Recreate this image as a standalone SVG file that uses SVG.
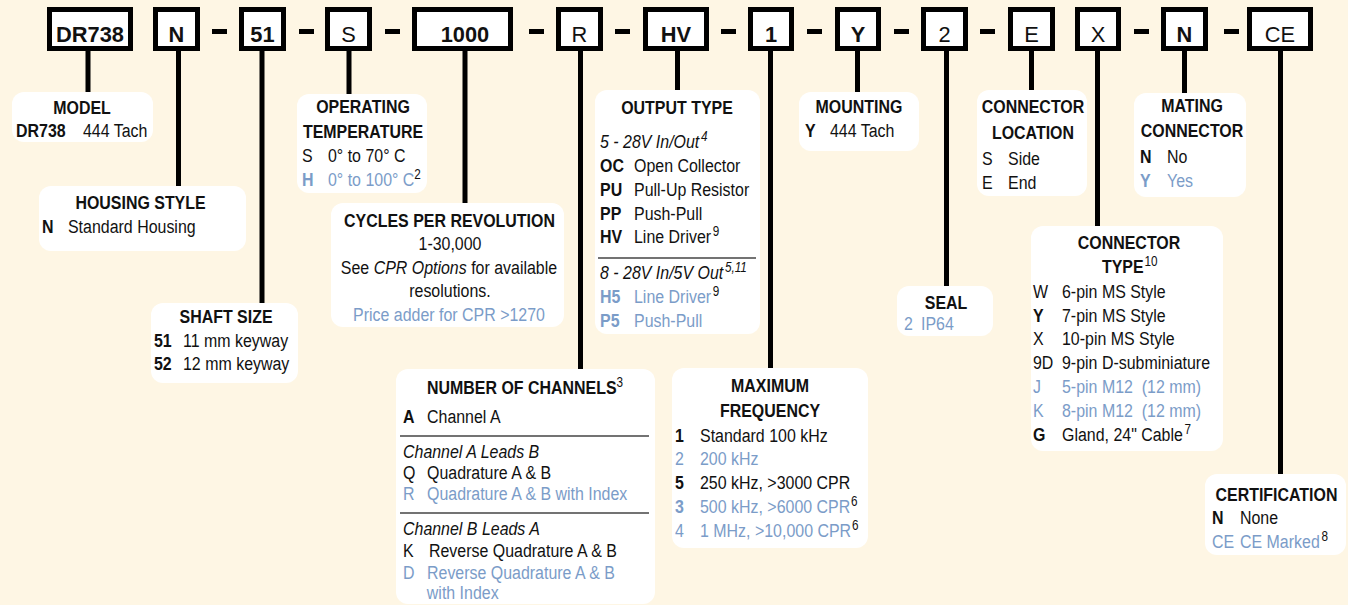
<svg xmlns="http://www.w3.org/2000/svg" width="1348" height="605" viewBox="0 0 1348 605">
<style>
text{font-family:"Liberation Sans",Arial,sans-serif;font-size:19px;fill:#111;transform-box:fill-box;transform-origin:0 50%;transform:scaleX(0.84)}
.code{font-size:22.5px;font-weight:bold;text-anchor:middle;transform-origin:50% 50%;transform:scaleX(0.97)}
.code.r{font-weight:normal}
.b{font-weight:bold}
.h{font-weight:bold;text-anchor:middle;transform-origin:50% 50%}
.c{text-anchor:middle;transform-origin:50% 50%}
.i{font-style:italic}
.bl{fill:#7b9cc8}
.sup{font-size:14px;fill:#111}
.cb{fill:#fff;stroke:#000;stroke-width:5}
.ib{fill:#fff}
.dash{fill:#000}
.div{stroke:#444;stroke-width:1.5}
#connectors line{stroke:#000;stroke-width:5}
</style>
<rect width="1348" height="605" fill="#fef6e4"/>
<g id="connectors">
<line x1="88" y1="50" x2="88" y2="93"/>
<line x1="178.5" y1="50" x2="178.5" y2="187"/>
<line x1="262" y1="50" x2="262" y2="304"/>
<line x1="349" y1="50" x2="349" y2="95"/>
<line x1="465" y1="50" x2="465" y2="204"/>
<line x1="580.5" y1="50" x2="580.5" y2="370"/>
<line x1="677.5" y1="50" x2="677.5" y2="91"/>
<line x1="770.5" y1="50" x2="770.5" y2="369"/>
<line x1="857.5" y1="50" x2="857.5" y2="93"/>
<line x1="946.5" y1="50" x2="946.5" y2="287"/>
<line x1="1031.5" y1="50" x2="1031.5" y2="91"/>
<line x1="1097.5" y1="50" x2="1097.5" y2="227"/>
<line x1="1184.5" y1="50" x2="1184.5" y2="94"/>
<line x1="1280.5" y1="50" x2="1280.5" y2="475"/>
</g>
<g id="dashes">
<rect class="dash" x="212" y="29" width="15" height="5"/>
<rect class="dash" x="299" y="29" width="15" height="5"/>
<rect class="dash" x="385" y="29" width="15" height="5"/>
<rect class="dash" x="529" y="29" width="15" height="5"/>
<rect class="dash" x="615" y="29" width="15" height="5"/>
<rect class="dash" x="721" y="29" width="15" height="5"/>
<rect class="dash" x="807" y="29" width="15" height="5"/>
<rect class="dash" x="894" y="29" width="15" height="5"/>
<rect class="dash" x="980" y="29" width="15" height="5"/>
<rect class="dash" x="1134" y="29" width="15" height="5"/>
<rect class="dash" x="1224" y="29" width="15" height="5"/>
</g>
<g id="code-dr738"><rect class="cb" x="49.5" y="9.5" width="81" height="39"/><text class="code" x="90" y="42">DR738</text></g>
<g id="code-n"><rect class="cb" x="155.5" y="9.5" width="42" height="39"/><text class="code" x="176.5" y="42">N</text></g>
<g id="code-51"><rect class="cb" x="241.5" y="9.5" width="42" height="39"/><text class="code" x="262.5" y="42">51</text></g>
<g id="code-s"><rect class="cb" x="327.5" y="9.5" width="42" height="39"/><text class="code r" x="348.5" y="42">S</text></g>
<g id="code-1000"><rect class="cb" x="414.5" y="9.5" width="96" height="39"/><text class="code" x="465" y="42">1000</text></g>
<g id="code-r"><rect class="cb" x="558.5" y="9.5" width="42" height="39"/><text class="code r" x="579.5" y="42">R</text></g>
<g id="code-hv"><rect class="cb" x="645.5" y="9.5" width="61" height="39"/><text class="code" x="676" y="42">HV</text></g>
<g id="code-1"><rect class="cb" x="750.5" y="9.5" width="41" height="39"/><text class="code" x="771" y="42">1</text></g>
<g id="code-y"><rect class="cb" x="837.5" y="9.5" width="41" height="39"/><text class="code" x="858" y="42">Y</text></g>
<g id="code-2"><rect class="cb" x="923.5" y="9.5" width="42" height="39"/><text class="code r" x="944.5" y="42">2</text></g>
<g id="code-e"><rect class="cb" x="1010.5" y="9.5" width="42" height="39"/><text class="code r" x="1031.5" y="42">E</text></g>
<g id="code-x"><rect class="cb" x="1077.5" y="9.5" width="41" height="39"/><text class="code r" x="1098" y="42">X</text></g>
<g id="code-n2"><rect class="cb" x="1163.5" y="9.5" width="42" height="39"/><text class="code" x="1184.5" y="42">N</text></g>
<g id="code-ce"><rect class="cb" x="1249.5" y="9.5" width="61" height="39"/><text class="code r" x="1280" y="42">CE</text></g>

<g id="info-model"><rect class="ib" x="12" y="92" width="141" height="50" rx="12"/>
<text class="h" x="82" y="114">MODEL</text>
<text class="b" x="16" y="137">DR738</text><text x="83" y="137">444 Tach</text></g>

<g id="info-housing"><rect class="ib" x="39" y="186" width="207" height="65" rx="12"/>
<text class="h" x="140.5" y="209">HOUSING STYLE</text>
<text class="b" x="42" y="233">N</text><text x="68" y="233">Standard Housing</text></g>

<g id="info-shaft"><rect class="ib" x="151" y="303" width="147" height="80" rx="12"/>
<text class="h" x="226" y="323">SHAFT SIZE</text>
<text class="b" x="154" y="347">51</text><text x="183" y="347">11 mm keyway</text>
<text class="b" x="154" y="370">52</text><text x="183" y="370">12 mm keyway</text></g>

<g id="info-temp"><rect class="ib" x="297" y="94" width="130" height="99" rx="12"/>
<text class="h" x="363" y="113">OPERATING</text>
<text class="h" x="363" y="138">TEMPERATURE</text>
<text x="302" y="162">S</text><text x="328" y="162">0° to 70° C</text>
<text class="b bl" x="302" y="186">H</text><text class="bl" x="328" y="186">0° to 100° C<tspan class="sup" dy="-7">2</tspan></text></g>

<g id="info-cpr"><rect class="ib" x="331" y="203" width="233" height="124" rx="12"/>
<text class="h" x="449.5" y="227">CYCLES PER REVOLUTION</text>
<text class="c" x="450" y="250">1-30,000</text>
<text class="c" x="449" y="274">See <tspan class="i">CPR Options</tspan> for available</text>
<text class="c" x="450" y="297">resolutions.</text>
<text class="c bl" x="449" y="321">Price adder for CPR &gt;1270</text></g>

<g id="info-output"><rect class="ib" x="595" y="90" width="165" height="244" rx="12"/>
<text class="h" x="677" y="114">OUTPUT TYPE</text>
<text class="i" x="600" y="148">5 - 28V In/Out<tspan class="sup" dx="2" dy="-7">4</tspan></text>
<text class="b" x="600" y="172">OC</text><text x="634" y="172">Open Collector</text>
<text class="b" x="600" y="196">PU</text><text x="634" y="196">Pull-Up Resistor</text>
<text class="b" x="600" y="220">PP</text><text x="634" y="220">Push-Pull</text>
<text class="b" x="600" y="243">HV</text><text x="634" y="243">Line Driver<tspan class="sup" dx="2" dy="-7">9</tspan></text>
<line class="div" x1="598" y1="258" x2="756" y2="258"/>
<text class="i" x="600" y="279">8 - 28V In/5V Out<tspan class="sup i" dx="2" dy="-7">5,11</tspan></text>
<text class="b bl" x="600" y="303">H5</text><text class="bl" x="634" y="303">Line Driver<tspan class="sup" dx="2" dy="-7">9</tspan></text>
<text class="b bl" x="600" y="327">P5</text><text class="bl" x="634" y="327">Push-Pull</text></g>

<g id="info-mounting"><rect class="ib" x="799" y="92" width="120" height="59" rx="12"/>
<text class="h" x="859" y="113">MOUNTING</text>
<text class="b" x="805" y="137">Y</text><text x="830" y="137">444 Tach</text></g>

<g id="info-seal"><rect class="ib" x="897" y="286" width="96" height="50" rx="12"/>
<text class="h" x="946" y="309">SEAL</text>
<text class="bl" x="904" y="330">2</text><text class="bl" x="921" y="330">IP64</text></g>

<g id="info-location"><rect class="ib" x="977" y="90" width="110" height="106" rx="12"/>
<text class="h" x="1033" y="113">CONNECTOR</text>
<text class="h" x="1033" y="139">LOCATION</text>
<text x="982" y="165">S</text><text x="1008" y="165">Side</text>
<text x="982" y="189">E</text><text x="1008" y="189">End</text></g>

<g id="info-mating"><rect class="ib" x="1134" y="93" width="112" height="104" rx="12"/>
<text class="h" x="1192" y="112">MATING</text>
<text class="h" x="1192" y="137">CONNECTOR</text>
<text class="b" x="1140" y="163">N</text><text x="1167" y="163">No</text>
<text class="b bl" x="1140" y="187">Y</text><text class="bl" x="1167" y="187">Yes</text></g>

<g id="info-conntype"><rect class="ib" x="1031" y="226" width="192" height="225" rx="12"/>
<text class="h" x="1129" y="249">CONNECTOR</text>
<text class="b" x="1102" y="273">TYPE<tspan class="sup" font-weight="normal" dx="1" dy="-7">10</tspan></text>
<text x="1033" y="298">W</text><text x="1062" y="298">6-pin MS Style</text>
<text class="b" x="1033" y="322">Y</text><text x="1062" y="322">7-pin MS Style</text>
<text x="1033" y="345">X</text><text x="1062" y="345">10-pin MS Style</text>
<text x="1033" y="369">9D</text><text x="1062" y="369">9-pin D-subminiature</text>
<text class="bl" x="1033" y="393">J</text><text class="bl" x="1062" y="393" xml:space="preserve">5-pin M12  (12 mm)</text>
<text class="bl" x="1033" y="417">K</text><text class="bl" x="1062" y="417" xml:space="preserve">8-pin M12  (12 mm)</text>
<text class="b" x="1033" y="441">G</text><text x="1062" y="441">Gland, 24" Cable<tspan class="sup" dx="2" dy="-7">7</tspan></text></g>

<g id="info-channels"><rect class="ib" x="396" y="369" width="259" height="235" rx="12"/>
<text class="b" x="427" y="394">NUMBER OF CHANNELS<tspan class="sup" font-weight="normal" dy="-7">3</tspan></text>
<text class="b" x="403" y="423">A</text><text x="427" y="423">Channel A</text>
<line class="div" x1="400" y1="436" x2="649" y2="436"/>
<text class="i" x="403" y="458">Channel A Leads B</text>
<text x="403" y="479">Q</text><text x="427" y="479">Quadrature A &amp; B</text>
<text class="bl" x="403" y="500">R</text><text class="bl" x="427" y="500">Quadrature A &amp; B with Index</text>
<line class="div" x1="400" y1="513" x2="649" y2="513"/>
<text class="i" x="403" y="535">Channel B Leads A</text>
<text x="403" y="557">K</text><text x="429" y="557">Reverse Quadrature A &amp; B</text>
<text class="bl" x="403" y="579">D</text><text class="bl" x="427" y="579">Reverse Quadrature A &amp; B</text>
<text class="bl" x="427" y="599">with Index</text></g>

<g id="info-frequency"><rect class="ib" x="672" y="368" width="196" height="180" rx="12"/>
<text class="h" x="770" y="392">MAXIMUM</text>
<text class="h" x="770" y="417">FREQUENCY</text>
<text class="b" x="675" y="442">1</text><text x="700" y="442">Standard 100 kHz</text>
<text class="bl" x="675" y="465">2</text><text class="bl" x="700" y="465">200 kHz</text>
<text class="b" x="675" y="489">5</text><text x="700" y="489">250 kHz, &gt;3000 CPR</text>
<text class="b bl" x="675" y="513">3</text><text class="bl" x="700" y="513">500 kHz, &gt;6000 CPR<tspan class="sup" dx="1" dy="-7">6</tspan></text>
<text class="bl" x="675" y="537">4</text><text class="bl" x="700" y="537">1 MHz, &gt;10,000 CPR<tspan class="sup" dx="1" dy="-7">6</tspan></text></g>

<g id="info-cert"><rect class="ib" x="1205" y="474" width="141" height="81" rx="12"/>
<text class="h" x="1276.5" y="501">CERTIFICATION</text>
<text class="b" x="1212" y="524">N</text><text x="1240" y="524">None</text>
<text class="bl" x="1212" y="548">CE</text><text class="bl" x="1240" y="548">CE Marked<tspan class="sup" dx="2" dy="-7">8</tspan></text></g>
</svg>
